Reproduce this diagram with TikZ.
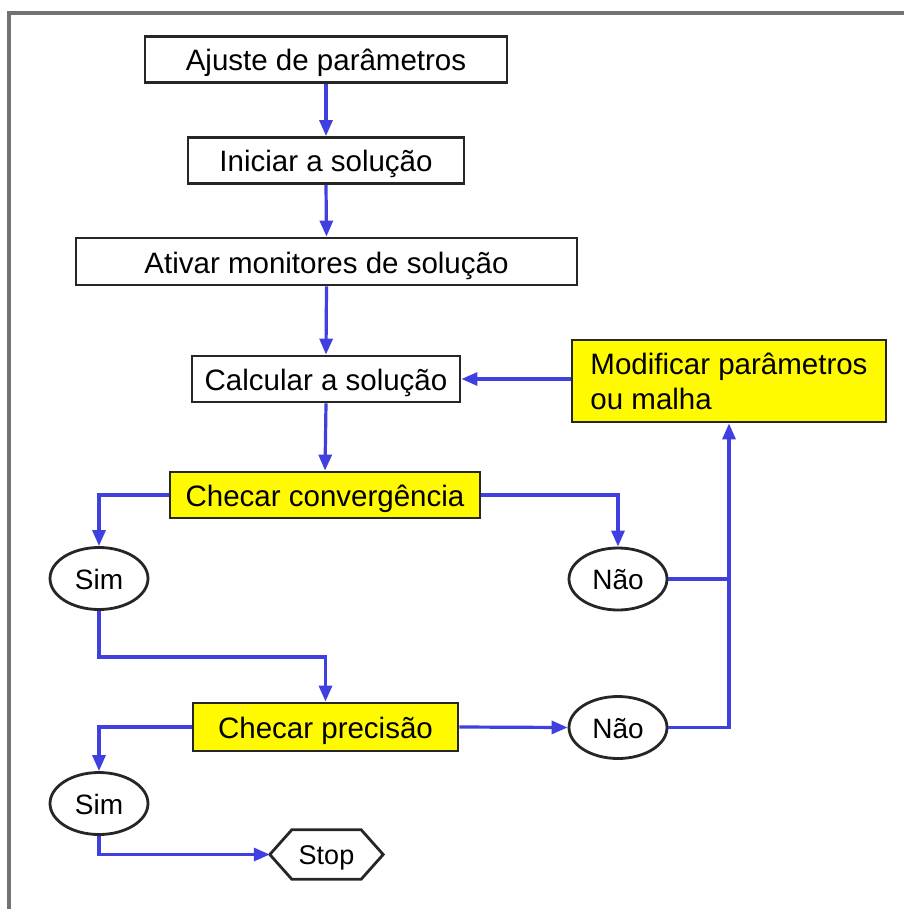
\documentclass[tikz,border=0pt]{standalone}
\usepackage{fontspec}
\setmainfont{Liberation Sans}
\usetikzlibrary{arrows.meta,shapes.geometric}
\definecolor{flowblue}{RGB}{64,64,224}
\definecolor{hiyellow}{RGB}{255,250,0}
\begin{document}
\begin{tikzpicture}[x=1pt,y=-1pt,
  every node/.style={font=\fontsize{29.5}{35}\selectfont, inner sep=0pt},
  stepbox/.style={draw=black!85, line width=2.8pt, fill=white, minimum height=46pt,
    text height=23pt, text depth=0pt},
  checkbox/.style={stepbox, fill=hiyellow},
  answer/.style={ellipse, draw=black!85, line width=2.8pt, fill=white,
    minimum width=98pt, minimum height=62pt, font=\fontsize{28}{34}\selectfont,
    text height=21pt, text depth=0pt},
  flow/.style={draw=flowblue, line width=3.2pt, -{Triangle[length=16pt,width=13pt]}},
  flowline/.style={draw=flowblue, line width=3.2pt},
]
\useasboundingbox (0,0) rectangle (904,909);
% open frame: top and left edges only
\draw[black!55, line width=3.5pt] (9,909) -- (9,13) -- (904,13);

% process steps
\node[stepbox, minimum width=362pt] (ajuste) at (326,59.5) {Ajuste de parâmetros};
\node[stepbox, minimum width=276pt] (iniciar) at (326,160.5) {Iniciar a solução};
\node[stepbox, minimum width=501pt, minimum height=47pt] (ativar) at (326.5,261.5) {Ativar monitores de solução};
\node[stepbox, minimum width=268pt] (calcular) at (326,379) {Calcular a solução};
\node[checkbox, minimum width=314pt, minimum height=82pt, text height=, text depth=,
      align=left] (modificar) at (729,381) {Modificar parâmetros\\ou malha};
\node[checkbox, minimum width=310pt] (conv) at (325,495) {Checar convergência};
\node[checkbox, minimum width=265pt, minimum height=48pt] (prec) at (325.5,727) {Checar precisão};

% answers
\node[answer] (sim1) at (99,578.5) {Sim};
\node[answer] (nao1) at (618,579) {Não};
\node[answer] (nao2) at (618,727.5) {Não};
\node[answer] (sim2) at (99,803.5) {Sim};

% terminal
\node[minimum width=113pt, minimum height=49pt, font=\fontsize{27}{32}\selectfont,
      text height=20pt, text depth=0pt] (stop) at (326.5,854.5) {Stop};
\draw[draw=black!85, line width=2.8pt, line join=miter]
  (stop.west) -- ([xshift=22pt]stop.north west) -- ([xshift=-22pt]stop.north east)
  -- (stop.east) -- ([xshift=-22pt]stop.south east) -- ([xshift=22pt]stop.south west) -- cycle;

% main sequence
\draw[flow] (ajuste.south) -- (iniciar.north);
\draw[flow] (iniciar.south) -- (ativar.north);
\draw[flow] (ativar.south) -- (calcular.north);
\draw[flow] (calcular.south) -- (conv.north);
\draw[flow] (modificar.west |- calcular.east) -- (calcular.east);

% convergence branch
\draw[flow] (conv.west) -| (sim1.north);
\draw[flow] (conv.east) -| (nao1.north);
\draw[flowline] (nao1.east) -- (nao1.east -| modificar.south);
\draw[flow] (nao2.east) -| (modificar.south);
\draw[flow] (sim1.south) -- ++(0,46) -| (prec.north);

% precision branch
\draw[flow] (prec.east) -- (nao2.west);
\draw[flow] (prec.west) -| (sim2.north);
\draw[flow] (sim2.south) |- (stop.west);
\end{tikzpicture}
\end{document}
